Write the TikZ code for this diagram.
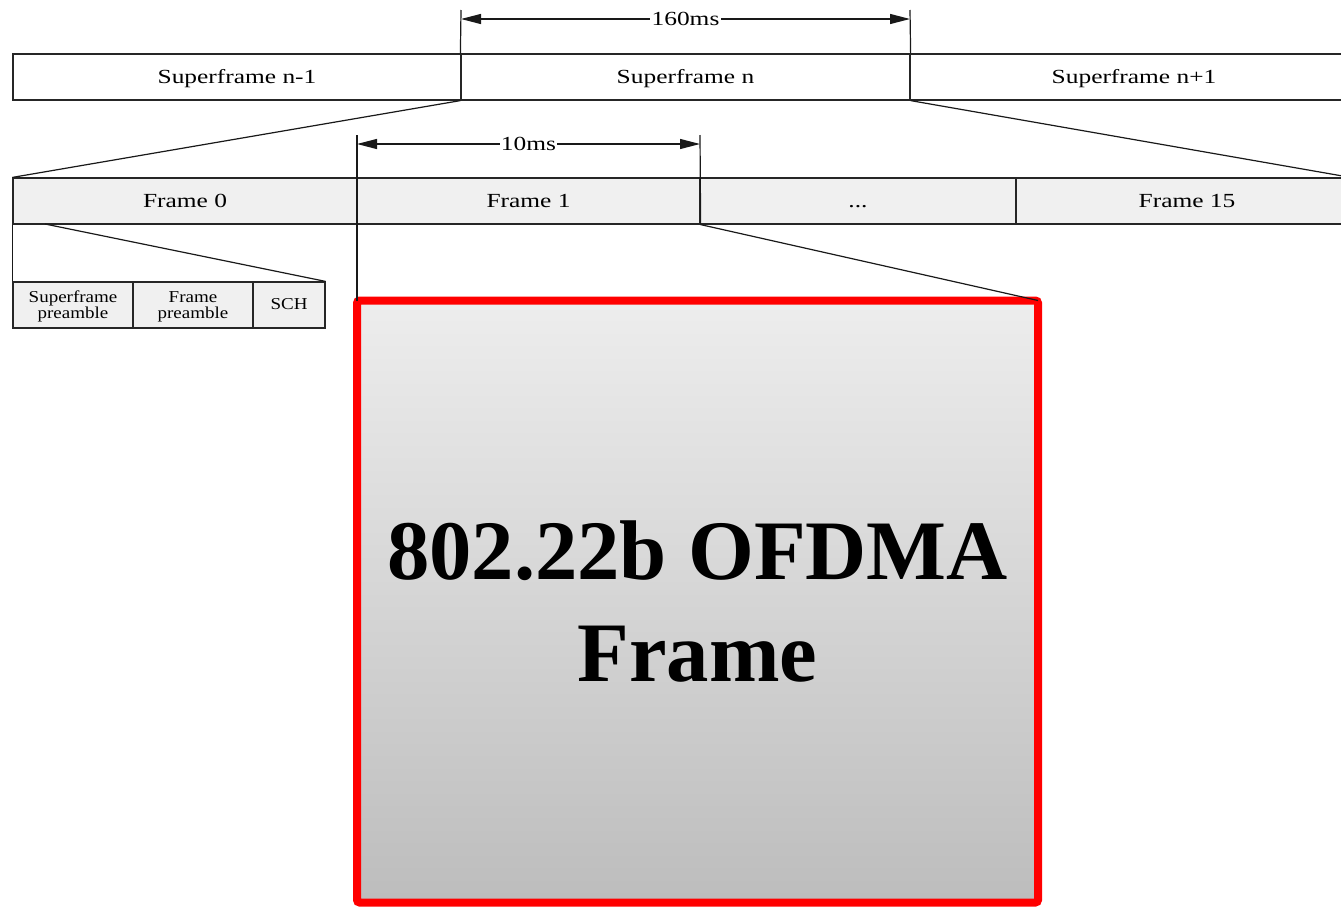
\documentclass[tikz,border=0pt]{standalone}
\usepackage{fontspec}
\setmainfont{Liberation Serif}
\usetikzlibrary{arrows.meta}
\newcommand\mtx[1]{\scalebox{1.27}[1]{#1}}
\newcommand\stx[1]{\scalebox{1.14}[1]{\begin{tabular}{@{}c@{}}#1\end{tabular}}}
\begin{document}
\begin{tikzpicture}[x=0.75pt,y=-0.75pt,
  box/.style={draw=black!85,line width=0.9pt,inner sep=0pt,font=\fontsize{15}{18}\selectfont},
  sfbox/.style={box,fill=white,text height=11pt,text depth=2pt},
  frbox/.style={box,fill=black!6,text height=11pt,text depth=2pt},
  smbox/.style={box,fill=black!6,font=\fontsize{12.5}{12}\selectfont},
  smtxt/.style={inner sep=0pt,font=\fontsize{12.5}{12}\selectfont},
  lbl/.style={font=\fontsize{15}{18}\selectfont,text height=11pt,text depth=2pt,inner sep=0pt},
  ln/.style={draw=black!90,line width=0.9pt},
  dim/.style={ln,{Triangle[length=15pt,width=7.5pt]}-{Triangle[length=15pt,width=7.5pt]}},
  dlabel/.style={fill=white,inner sep=1pt,font=\fontsize{15}{18}\selectfont}]
\useasboundingbox (0,0) rectangle (1341,907);
% superframes
\node[sfbox,minimum width=336pt,minimum height=34.5pt] (sfa) at (237,77) {\mtx{Superframe n-1}};
\node[sfbox,minimum width=336.75pt,minimum height=34.5pt] (sfb) at (685.5,77) {\mtx{Superframe n}};
\node[sfbox,minimum width=330pt,minimum height=34.5pt] (sfc) at (1130,77) {};
\node[lbl] (sfct) at (1134,77) {\mtx{Superframe n+1}};
% frames
\node[frbox,minimum width=258pt,minimum height=34.5pt] (f0) at (185,201) {\mtx{Frame 0}};
\node[frbox,minimum width=257.25pt,minimum height=34.5pt] (f1) at (528.5,201) {\mtx{Frame 1}};
\node[frbox,minimum width=237pt,minimum height=34.5pt] (fd) at (858,201) {\mtx{...}};
\node[frbox,minimum width=250.5pt,minimum height=34.5pt] (f15) at (1183,201) {};
\node[lbl] (f15t) at (1187,201) {\mtx{Frame 15}};
% small boxes
\node[smbox,minimum width=90pt,minimum height=34.5pt] (sp) at (73,305) {};
\node[smbox,minimum width=90pt,minimum height=34.5pt] (fp) at (193,305) {};
\node[smbox,minimum width=54pt,minimum height=34.5pt] (sch) at (289,305) {};
\node[smtxt] (spt) at (73,307) {\stx{Superframe\\preamble}};
\node[smtxt] (fpt) at (193,307) {\stx{Frame\\preamble}};
\node[smtxt] (scht) at (289,306) {\stx{SCH}};
% big red frame
\node[draw=red,line width=6pt,outer sep=0pt,rounded corners=2pt,top color=black!7,bottom color=black!26,
  minimum width=510.75pt,minimum height=451.5pt,inner sep=0pt,align=center,
  font=\fontsize{63.5}{77}\selectfont\bfseries] (big) at (697.5,601.5) {802.22b OFDMA\\Frame};
% expansion lines
\draw[ln] (sfb.south west) -- (f0.north west);
\draw[ln] (sfb.south east) -- (f15.north east);
\draw[ln] (f0.south west) -- (sp.north west);
\coordinate (f0b) at (45,224);
\draw[ln] (f0b) -- (sch.north east);
\draw[ln] (f1.south east) -- (big.north east);
% 160ms dimension
\coordinate (d1) at (461,10);
\coordinate (d2) at (910,10);
\coordinate (a1) at (461,19);
\coordinate (a2) at (910,19);
\draw[ln] (sfb.north west) -- (d1);
\draw[ln] (sfb.north east) -- (d2);
\draw[dim] (a1) -- node[dlabel]{\mtx{160ms}} (a2);
% 10ms dimension
\coordinate (e1) at (357,135);
\coordinate (e2) at (700,135);
\coordinate (b1) at (357,144);
\coordinate (b2) at (700,144);
\draw[ln] (e1) -- (big.north west);
\draw[ln] (e2) -- (f1.south east);
\draw[dim] (b1) -- node[dlabel]{\mtx{10ms}} (b2);
\end{tikzpicture}
\end{document}
